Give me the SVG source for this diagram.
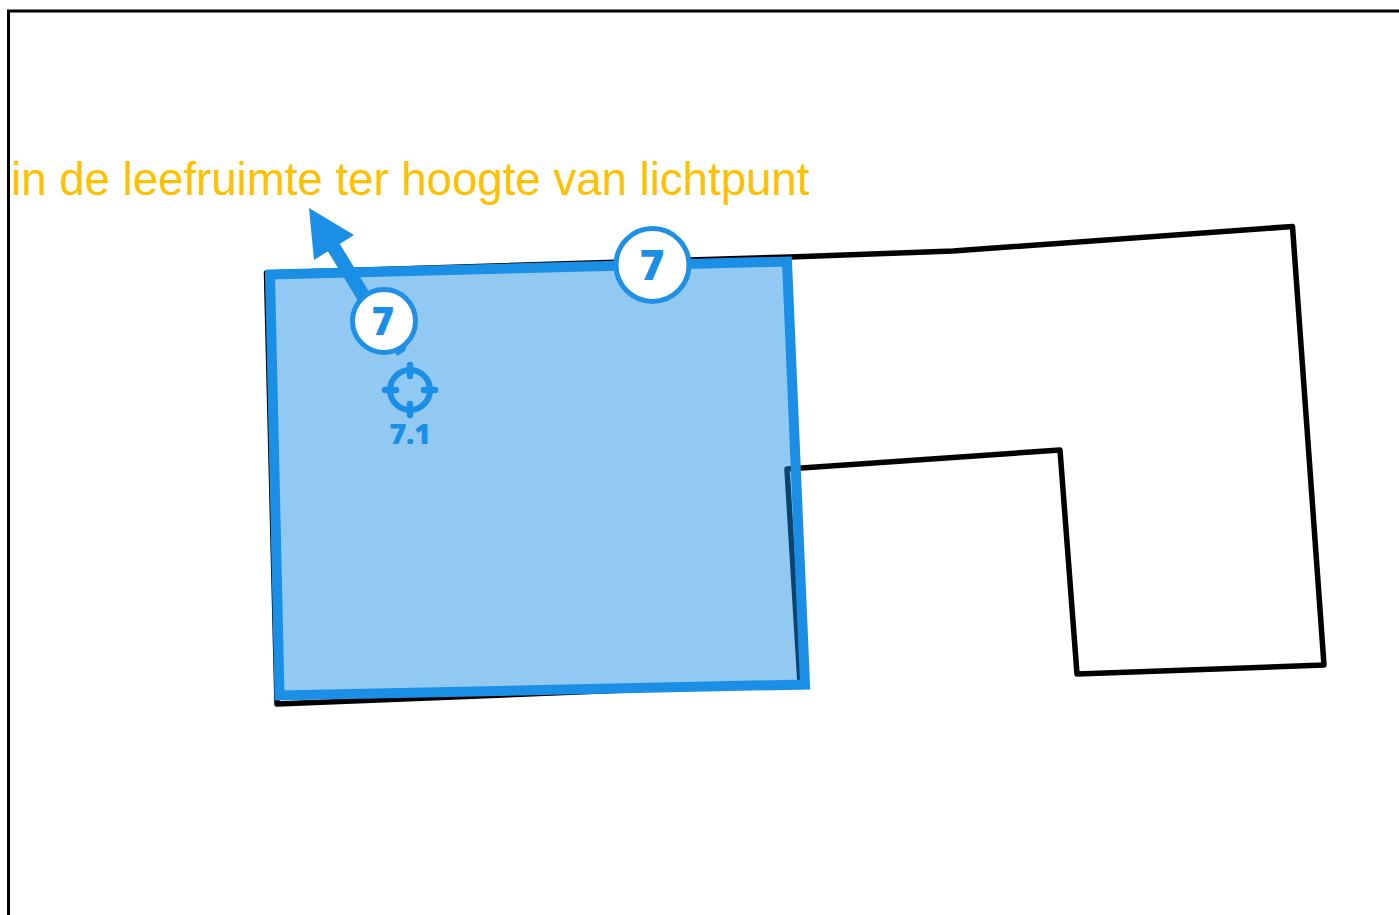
<svg xmlns="http://www.w3.org/2000/svg" width="1399" height="915" viewBox="0 0 1399 915">
<style>
.wall{fill:none;stroke:#000;stroke-width:5.500;stroke-linejoin:round;stroke-linecap:round}
.blue{fill:#1b8fe5;stroke:none}
.badge{fill:#fff;stroke:#1f90e6;stroke-width:5}
.num{fill:#1b8fe5;font-family:"Open Sans","Noto Sans",sans-serif;font-weight:800;text-anchor:middle}
</style>
<rect width="1399" height="915" fill="#fff"/>
<path id="frame" d="M8.500 915V11H1399" fill="none" stroke="#000" stroke-width="3"/>
<text id="title" x="11" y="195" font-family="Liberation Sans,Arial,sans-serif" font-size="45.600" fill="#ffc000">in de leefruimte ter hoogte van lichtpunt</text>
<g id="building"><path class="wall" d="M266.500 273L790 257L953 251L1292.500 226.500L1324 665L1077 674L1060 450L787 469L800 683L277 704Z"/></g>
<g id="zone"><path d="M270 274.500L787 261.500L805 684.500L279.500 695.500Z" fill="#1b8fe5" fill-opacity=".48" stroke="#1b8fe5" stroke-width="10"/></g>
<g id="connectors">
<path d="M364 297L331 243" stroke="#1b8fe5" stroke-width="14" fill="none"/>
<path class="blue" d="M309 208L354 235L314 260Z"/>
</g>
<g id="badge-a"><path class="blue" d="M394 350L407 344L405 351L397 356Z"/><circle class="badge" cx="384" cy="321" r="31.500"/><text class="num" x="383" y="335" font-size="38">7</text></g>
<g id="badge-b"><circle class="badge" cx="652.500" cy="265" r="36.500"/><text class="num" x="652" y="280" font-size="42">7</text></g>
<g id="light-point">
<circle cx="410" cy="390" r="20" fill="none" stroke="#1b8fe5" stroke-width="6"/>
<path d="M410 365V376M410 404V415M385 390H396M424 390H435" stroke="#1b8fe5" stroke-width="6.500" stroke-linecap="round" fill="none"/>
<text x="410" y="444" font-family="Open Sans,Noto Sans,sans-serif" font-weight="800" font-size="29" letter-spacing="-.500" fill="#1b8fe5" text-anchor="middle">7.1</text>
</g>
</svg>
